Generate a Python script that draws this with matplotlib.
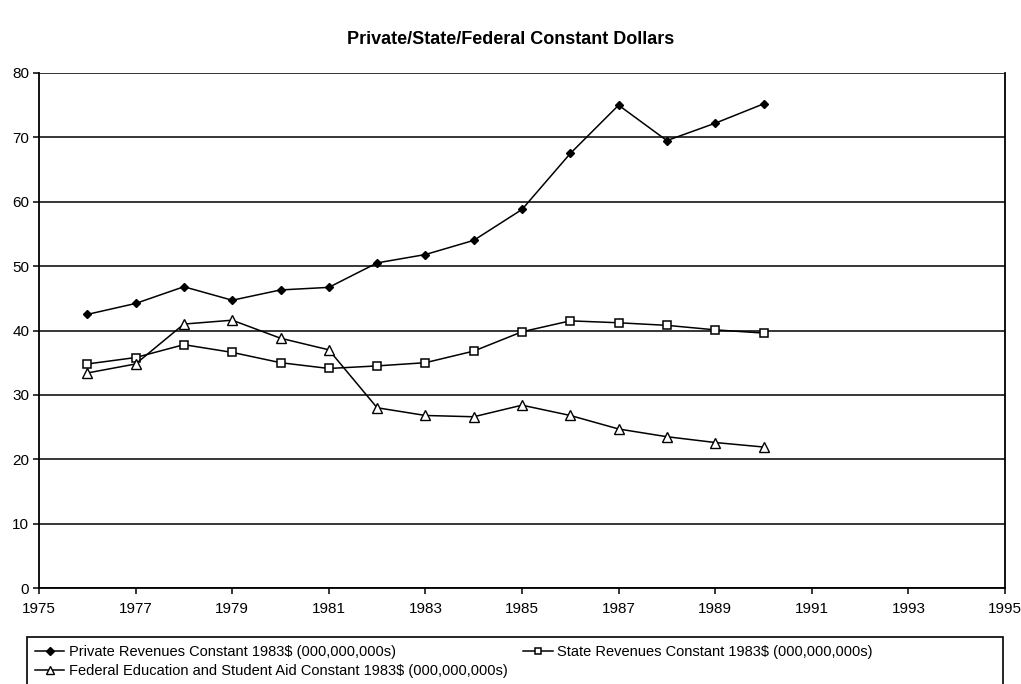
import matplotlib.pyplot as plt
from matplotlib.patches import Rectangle

plt.rcParams['font.family'] = ['Liberation Sans', 'DejaVu Sans']

# ---- data (billions, constant 1983 dollars) ----
years = [1976, 1977, 1978, 1979, 1980, 1981, 1982, 1983,
         1984, 1985, 1986, 1987, 1988, 1989, 1990]
private_rev = [42.5, 44.2, 46.8, 44.7, 46.3, 46.7, 50.5, 51.8,
               54.0, 58.8, 67.5, 75.0, 69.5, 72.2, 75.2]
state_rev = [34.8, 35.8, 37.8, 36.6, 35.0, 34.1, 34.5, 35.0,
             36.8, 39.8, 41.5, 41.2, 40.8, 40.1, 39.6]
federal_aid = [33.4, 34.8, 41.0, 41.6, 38.8, 37.0, 28.0, 26.8,
               26.6, 28.4, 26.8, 24.7, 23.5, 22.6, 21.9]

x_ticks = list(range(1975, 1996, 2))
y_ticks = list(range(0, 81, 10))

lbl_private = "Private Revenues Constant 1983$ (000,000,000s)"
lbl_state = "State Revenues Constant 1983$ (000,000,000s)"
lbl_federal = "Federal Education and Student Aid Constant 1983$ (000,000,000s)"

W, H = 1021, 684
fig = plt.figure(figsize=(W / 100, H / 100), dpi=100)
ax = fig.add_axes([39 / W, 1 - 588 / H, (1005 - 39) / W, (588 - 73) / H])

l1, = ax.plot(years, private_rev, color='black', lw=1.1, marker='D', ms=4.5,
              mfc='black', mec='black', label=lbl_private)
l2, = ax.plot(years, state_rev, color='black', lw=1.1, marker='s', ms=6,
              mfc='white', mec='black', mew=1.1, label=lbl_state)
l3, = ax.plot(years, federal_aid, color='black', lw=1.1, marker='^', ms=6.5,
              mfc='white', mec='black', mew=1.0, label=lbl_federal)

ax.set_xlim(1975, 1995)
ax.set_ylim(0, 80)
ax.set_xticks(x_ticks)
ax.set_yticks(y_ticks)
ax.yaxis.grid(True, color='black', lw=1.1)
ax.set_axisbelow(True)
for s in ['left', 'bottom', 'right']:
    ax.spines[s].set_linewidth(1.3)
ax.spines['top'].set_visible(False)
ax.tick_params(axis='both', direction='out', length=4, width=1.1,
               labelsize=11, colors='black')
ax.tick_params(axis='x', pad=6)
ax.tick_params(axis='y', pad=3)

fig.text(0.5, 1 - 40 / H, "Private/State/Federal Constant Dollars",
         ha='center', va='center', fontsize=13, fontweight='bold')

# legend box runs off the bottom edge
fig.patches.append(Rectangle((27 / W, -0.05), (1003 - 27) / W,
                             (H - 637) / H + 0.05,
                             transform=fig.transFigure, fill=False,
                             edgecolor='black', lw=1.2))
leg = fig.legend(handles=[l1, l3, l2], ncol=2, loc='upper left',
                 bbox_to_anchor=(27 / W, 1 - 637 / H),
                 frameon=False, fontsize=10.5, handlelength=2.0,
                 handletextpad=0.3, columnspacing=1.1,
                 borderpad=0.55, labelspacing=0.35, borderaxespad=0,
                 markerscale=0.8)

fig.savefig('out.png', dpi=100, facecolor='white')
